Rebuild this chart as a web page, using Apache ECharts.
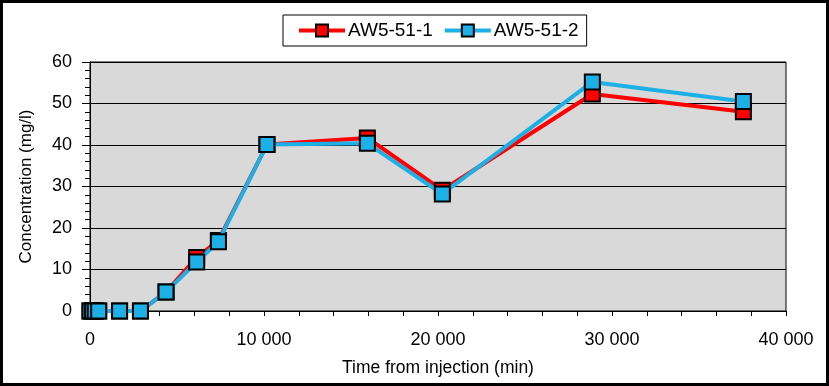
<!DOCTYPE html>
<html><head><meta charset="utf-8">
<script src="https://cdn.jsdelivr.net/npm/echarts@6/dist/echarts.min.js"></script>
<style>
html,body{margin:0;padding:0;background:#fff;}
#frame{position:absolute;left:0;top:0;width:829px;height:386px;box-sizing:border-box;border:3px solid #000;}
#c{position:absolute;left:0;top:0;width:829px;height:386px;}
</style></head>
<body><div id="c"></div><div id="frame"></div>
<script>
const timeMin = [0, 150, 300, 500, 1700, 2900, 4370, 6130, 7380, 10170, 15940, 20250, 28870, 37550];
const aw1 = [0, 0, 0, 0, 0, 0, 4.6, 12.9, 17.0, 40.1, 41.7, 29.1, 52.3, 48.0];
const aw2 = [0, 0, 0, 0, 0, 0, 4.6, 11.8, 16.7, 40.1, 40.4, 28.2, 55.2, 50.5];
const seriesNames = ['AW5-51-1', 'AW5-51-2'];
const xTicks = [0, 10000, 20000, 30000, 40000];
const yTicks = [0, 10, 20, 30, 40, 50, 60];

const font = 'Liberation Sans, Arial, sans-serif';
function pairs(xs, ys){ return xs.map((x,i)=>[x, ys[i]]); }
function fmt(v){ return String(v).replace(/\B(?=(\d{3})+(?!\d))/g, ' '); }

const chart = echarts.init(document.getElementById('c'), null, {renderer:'canvas'});
chart.setOption({
  animation:false,
  textStyle:{fontFamily:font, color:'#000'},
  legend:{
    top:15, left:283,
    data:seriesNames,
    borderColor:'#000', borderWidth:1, padding:[6,8,6,14],
    itemWidth:46, itemHeight:15, itemGap:10,
    lineStyle:{width:4},
    textStyle:{fontSize:19, fontFamily:font, color:'#000', padding:[0,0,0,-2]}
  },
  grid:{left:90, right:43, top:62, bottom:75, show:true, backgroundColor:'#d9d9d9', borderColor:'#000', borderWidth:1},
  xAxis:{
    type:'value', min:xTicks[0], max:xTicks[xTicks.length-1], interval:10000,
    name:'Time from injection (min)', nameLocation:'middle', nameGap:48,
    nameTextStyle:{fontSize:17.5, fontFamily:font, color:'#000'},
    axisLine:{show:true, onZero:false, lineStyle:{color:'#000', width:1}},
    axisTick:{show:true, length:5, lineStyle:{color:'#000'}},
    minorTick:{show:true, splitNumber:5, length:5, lineStyle:{color:'#000'}},
    splitLine:{show:false},
    axisLabel:{fontSize:18, fontFamily:font, color:'#000', margin:20, formatter:v=>fmt(v)}
  },
  yAxis:{
    type:'value', min:yTicks[0], max:yTicks[yTicks.length-1], interval:10,
    name:'Concentration (mg/l)', nameLocation:'middle', nameGap:55,
    nameTextStyle:{fontSize:17, fontFamily:font, color:'#000'},
    axisLine:{show:true, lineStyle:{color:'#000', width:1}},
    axisTick:{show:true, length:8, lineStyle:{color:'#000'}},
    minorTick:{show:true, splitNumber:5, length:5, lineStyle:{color:'#000'}},
    splitLine:{show:true, lineStyle:{color:'#000', width:1}},
    axisLabel:{fontSize:18, fontFamily:font, color:'#000', margin:18}
  },
  series:[
    {name:seriesNames[0], type:'line', data:pairs(timeMin, aw1), clip:false,
     symbol:'rect', symbolSize:15, z:2,
     lineStyle:{color:'#ff0000', width:4},
     itemStyle:{color:'#ff0000', borderColor:'#000', borderWidth:2}},
    {name:seriesNames[1], type:'line', data:pairs(timeMin, aw2), clip:false,
     symbol:'rect', symbolSize:15, z:3,
     lineStyle:{color:'#1cb0e6', width:4},
     itemStyle:{color:'#1cb0e6', borderColor:'#000', borderWidth:2}}
  ]
});
</script></body></html>
